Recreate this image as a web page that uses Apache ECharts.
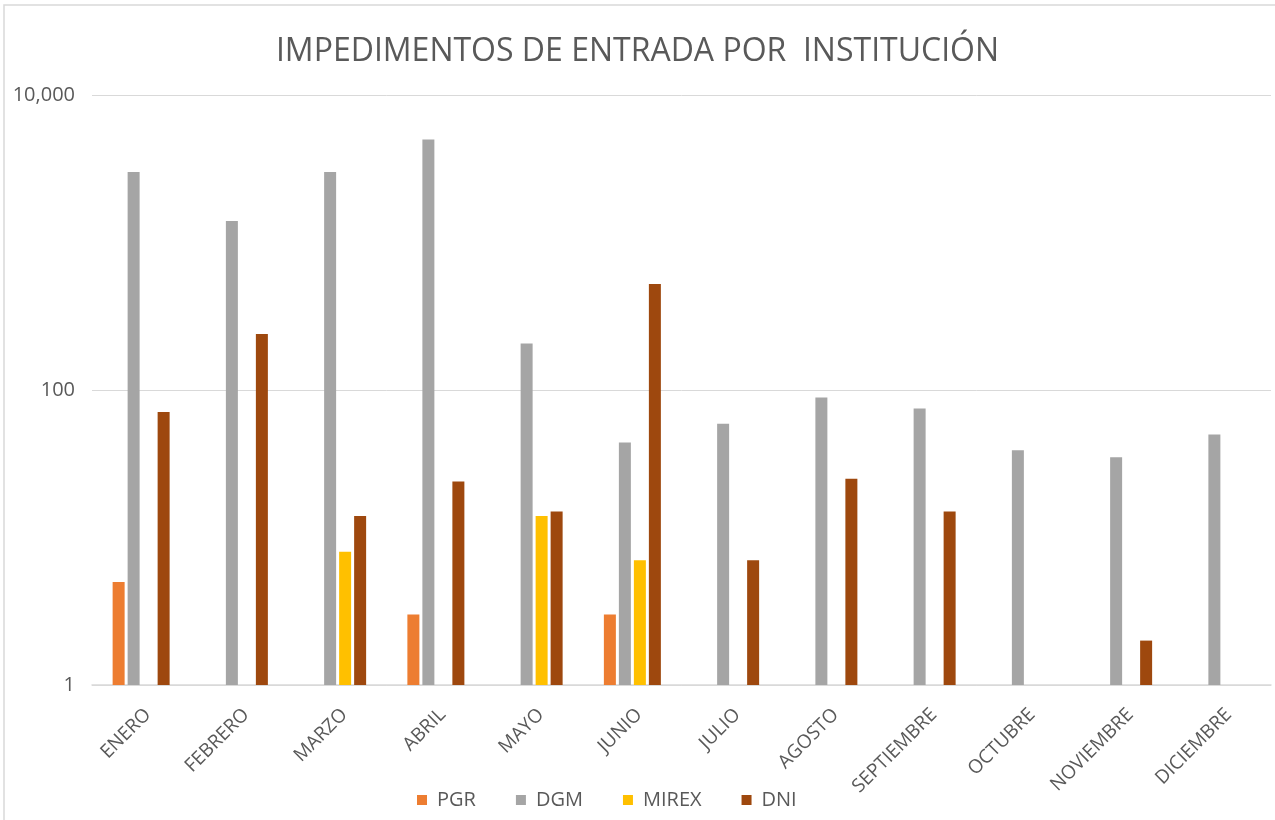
<!DOCTYPE html>
<html>
<head>
<meta charset="utf-8">
<script src="https://cdn.jsdelivr.net/npm/echarts@6/dist/echarts.min.js"></script>
<style>
html,body{margin:0;padding:0;background:#fff;}
#chart{width:1275px;height:820px;}
</style>
</head>
<body>
<div id="chart"></div>
<script>
const categories = ['ENERO','FEBRERO','MARZO','ABRIL','MAYO','JUNIO','JULIO','AGOSTO','SEPTIEMBRE','OCTUBRE','NOVIEMBRE','DICIEMBRE'];
const pgr   = [5, null, null, 3, null, 3, null, null, null, null, null, null];
const dgm   = [3000, 1400, 3000, 5000, 207, 44, 59, 89, 75, 39, 35, 50];
const mirex = [null, null, 8, null, 14, 7, null, null, null, null, null, null];
const dni   = [71, 240, 14, 24, 15, 523, 7, 25, 15, null, 2, null];
const seriesNames = ['PGR','DGM','MIREX','DNI'];
const seriesColors = ['#ED7D31','#A5A5A5','#FFC000','#9E480E'];
const titleText = 'IMPEDIMENTOS DE ENTRADA POR  INSTITUCIÓN';

const fontFam = 'Open Sans';
const txtColor = '#595959';
const chart = echarts.init(document.getElementById('chart'), null, {renderer:'canvas'});
const dataSets = [pgr, dgm, mirex, dni];

chart.setOption({
  backgroundColor:'#ffffff',
  animation:false,
  title:{
    text:titleText,
    left:'center', top:31,
    textStyle:{fontFamily:fontFam, fontSize:32, fontWeight:'normal', color:txtColor}
  },
  graphic:[{
    type:'rect', shape:{x:4, y:5, width:1400, height:1000},
    style:{fill:null, stroke:'#d9d9d9', lineWidth:1.5}, silent:true
  }],
  legend:{
    data:seriesNames, top:785, left:412,
    itemWidth:10, itemHeight:10, itemGap:40,
    icon:'rect',
    textStyle:{fontFamily:fontFam, fontSize:20, color:txtColor, padding:[0,0,0,5]}
  },
  grid:{left:92, right:4, top:95, bottom:135, containLabel:false},
  xAxis:{
    type:'category', data:categories,
    axisLine:{lineStyle:{color:'#d9d9d9', width:1.5}},
    axisTick:{show:false},
    axisLabel:{rotate:45, fontFamily:fontFam, fontSize:19, color:txtColor, margin:20, interval:0,
      verticalAlign:'top'}
  },
  yAxis:{
    type:'log', logBase:100, min:1, max:10000,
    axisLine:{show:false}, axisTick:{show:false},
    splitLine:{lineStyle:{color:'#d9d9d9', width:1}},
    axisLabel:{fontFamily:fontFam, fontSize:20, color:txtColor, margin:17,
      formatter:function(v){return Math.round(v).toLocaleString('en-US');}}
  },
  series: seriesNames.map((n,i)=>({
    name:n, type:'bar', data:dataSets[i],
    barWidth:12, barGap:'25%',
    itemStyle:{color:seriesColors[i]}
  }))
});
</script>
</body>
</html>
